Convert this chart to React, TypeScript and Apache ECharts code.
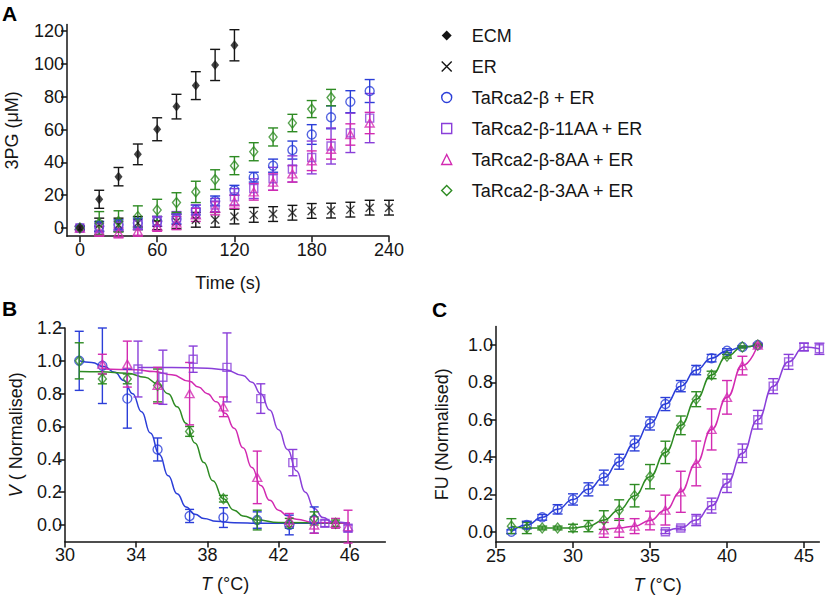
import React, { useEffect, useRef } from 'react';
import * as echarts from 'echarts';

const FONT = 'Liberation Sans, Arial, Helvetica, sans-serif';
const INK = '#151515';
const BLUE = '#2b3ed8';
const PURPLE = '#8a3fd9';
const MAGENTA = '#d22ab1';
const GREEN = '#2e8b23';

// ---------- Panel A: 3PG vs time ----------
const xTicksA = [0, 60, 120, 180, 240];
const yTicksA = [0, 20, 40, 60, 80, 100, 120];
const timeECM = [0, 15, 30, 45, 60, 75, 90, 105, 120];
const ecmA = [0, 17.5, 31.3, 44.9, 60.2, 74, 86.8, 99.4, 111.4];
const ecmErrA = [1, 5.5, 5.6, 6.3, 7, 7.5, 8.5, 9.5, 9.5];
const timeER = [0, 15, 30, 45, 60, 75, 90, 105, 120, 135, 150, 165, 180, 195, 210, 225, 240];
const erA = [0, 2, 2, 3, 3, 4, 5, 5, 7, 8, 8.5, 9.3, 10.4, 10.6, 11.2, 12.4, 12.4];
const erErrA = [1, 4, 4, 4, 4, 4.5, 4.5, 4.5, 4.5, 4.5, 4.5, 4.5, 4.5, 4.5, 4.5, 4.5, 4.5];
const time16 = [0, 15, 30, 45, 60, 75, 90, 105, 120, 135, 150, 165, 180, 195, 210, 225];
const wtA = [0, 1, 2, 3, 4, 5.5, 11, 16.5, 23, 31, 38, 47.5, 57, 67.5, 77, 83.5];
const wtErrA = [1, 3, 3, 3, 3, 3, 3, 3, 3, 3, 4, 5.5, 6, 7, 6.7, 7];
const aa11A = [0, 0, 1, 2, 4, 6, 10, 14, 19, 24, 30, 36, 43, 50, 58, 67];
const aa11ErrA = [1, 3, 3, 3, 3, 4, 4, 4, 5, 6, 7, 8, 10, 11, 12, 15];
const aa8A = [0, -2, -3, -2, 1, 3, 8, 12, 16, 22, 28, 33, 41, 48, 57, 64];
const aa8ErrA = [1, 3, 3, 3, 3, 4, 4, 4, 4, 5, 5, 5, 6, 6, 6.5, 6.5];
const time14 = [0, 15, 30, 45, 60, 75, 90, 105, 120, 135, 150, 165, 180, 195];
const aa3A = [0, 3, 4, 7, 11, 15.5, 22, 29.5, 38, 46.5, 55.5, 64, 72.5, 79.5];
const aa3ErrA = [1, 7, 6.5, 6.5, 6.5, 6, 6.5, 6, 5.5, 5.5, 5.5, 5.3, 5.2, 5];

// ---------- Panel B: activity vs temperature ----------
const xTicksB = [30, 34, 38, 42, 46];
const yTicksB = [0, 0.2, 0.4, 0.6, 0.8, 1.0, 1.2];
const tWtB = [30.8, 32.1, 33.5, 35.2, 37.0, 38.9, 40.8, 42.6, 44.0];
const vWtB = [1.0, 0.97, 0.77, 0.46, 0.055, 0.045, 0.03, 0.0, 0.03];
const eWtB = [0.18, 0.23, 0.18, 0.07, 0.04, 0.06, 0.05, 0.06, 0.08];
const t3B = [30.8, 32.1, 33.5, 35.2, 37.0, 38.9, 40.8, 42.6, 44.0, 45.2];
const v3B = [1.0, 0.89, 0.89, 0.85, 0.57, 0.16, 0.03, 0.01, 0.04, 0.01];
const e3B = [0.11, 0.03, 0.03, 0.1, 0.03, 0.02, 0.06, 0.03, 0.04, 0.02];
const t8B = [32.1, 33.5, 35.2, 37.0, 38.9, 40.8, 42.6, 44.0, 45.2, 45.9];
const v8B = [0.98, 0.98, 0.85, 0.80, 0.72, 0.29, 0.03, 0.0, 0.01, -0.01];
const e8B = [0.06, 0.14, 0.11, 0.19, 0.06, 0.16, 0.04, 0.05, 0.03, 0.1];
const t11B = [34.1, 35.5, 37.2, 39.1, 41.0, 42.8, 44.6, 45.9];
const v11B = [0.95, 0.90, 1.01, 0.96, 0.77, 0.38, 0.01, -0.02];
const e11B = [0.17, 0.165, 0.08, 0.21, 0.09, 0.08, 0.02, 0.02];
// fitted curves
const fitWtBT = [30.8, 31.5, 32.2, 32.8, 33.3, 33.8, 34.3, 34.8, 35.3, 35.8, 36.3, 36.8, 37.3, 37.8, 38.5, 39.5, 41.0, 46.0];
const fitWtBV = [1.0, 0.99, 0.965, 0.93, 0.88, 0.8, 0.69, 0.56, 0.43, 0.3, 0.19, 0.11, 0.065, 0.04, 0.022, 0.014, 0.01, 0.01];
const fit3BT = [30.8, 32.0, 33.5, 34.5, 35.2, 35.8, 36.3, 36.8, 37.3, 37.8, 38.3, 38.9, 39.5, 40.0, 40.8, 42.0, 46.0];
const fit3BV = [0.935, 0.933, 0.925, 0.9, 0.86, 0.8, 0.72, 0.62, 0.5, 0.38, 0.27, 0.16, 0.09, 0.055, 0.03, 0.015, 0.01];
const fit8BT = [32.1, 34.0, 35.0, 36.0, 37.0, 37.5, 38.0, 38.5, 39.0, 39.5, 40.0, 40.5, 41.0, 41.5, 42.0, 42.5, 43.0, 44.0, 46.0];
const fit8BV = [0.95, 0.945, 0.935, 0.915, 0.875, 0.84, 0.8, 0.75, 0.68, 0.59, 0.47, 0.35, 0.24, 0.15, 0.09, 0.055, 0.035, 0.015, 0.01];
const fit11BT = [34.1, 36.0, 38.0, 39.0, 40.0, 40.5, 41.0, 41.5, 42.0, 42.5, 43.0, 43.5, 44.0, 44.5, 45.0, 46.0];
const fit11BV = [0.96, 0.96, 0.955, 0.945, 0.91, 0.87, 0.8, 0.7, 0.58, 0.46, 0.33, 0.2, 0.1, 0.045, 0.02, 0.01];

// ---------- Panel C: fraction unfolded ----------
const xTicksC = [25, 30, 35, 40, 45];
const yTicksC = [0, 0.2, 0.4, 0.6, 0.8, 1.0];
const tWtC = [26, 27, 28, 29, 30, 31, 32, 33, 34, 35, 36, 37, 38, 39, 40, 41, 42];
const fWtC = [0.0, 0.036, 0.077, 0.12, 0.173, 0.227, 0.29, 0.375, 0.473, 0.58, 0.684, 0.78, 0.866, 0.93, 0.97, 0.99, 1.0];
const eWtC = [0.01, 0.02, 0.015, 0.025, 0.03, 0.035, 0.04, 0.04, 0.04, 0.035, 0.035, 0.03, 0.025, 0.02, 0.01, 0.005, 0.005];
const t3C = [26, 27, 28, 29, 30, 31, 32, 33, 34, 35, 36, 37, 38, 39, 40, 41, 42];
const f3C = [0.03, 0.02, 0.02, 0.02, 0.02, 0.03, 0.0625, 0.116, 0.193, 0.295, 0.425, 0.57, 0.71, 0.84, 0.94, 0.99, 1.0];
const e3C = [0.04, 0.03, 0.01, 0.01, 0.02, 0.03, 0.05, 0.055, 0.06, 0.065, 0.06, 0.05, 0.04, 0.02, 0.01, 0.005, 0.005];
const t8C = [32, 33, 34, 35, 36, 37, 38, 39, 40, 41, 42];
const f8C = [0.01, 0.02, 0.03, 0.06, 0.116, 0.214, 0.366, 0.548, 0.72, 0.89, 1.0];
const e8C = [0.04, 0.05, 0.04, 0.05, 0.08, 0.11, 0.12, 0.11, 0.09, 0.05, 0.01];
const t11C = [36, 37, 38, 39, 40, 41, 42, 43, 44, 45, 46];
const f11C = [0.0, 0.02, 0.0625, 0.14, 0.26, 0.42, 0.6, 0.78, 0.91, 0.99, 0.98];
const e11C = [0.01, 0.01, 0.03, 0.04, 0.05, 0.05, 0.05, 0.04, 0.04, 0.02, 0.03];

const NAMES = ['ECM', 'ER', 'TaRca2-β + ER', 'TaRca2-β-11AA + ER', 'TaRca2-β-8AA + ER', 'TaRca2-β-3AA + ER'];
const CROSS = 'path://M0,0L10,10M0,10L10,0';
const CLEAR = 'rgba(255,255,255,0)';

const pts = (xs: number[], ys: number[]) => xs.map((x, i) => [x, ys[i]]);
const errPts = (xs: number[], ys: number[], es: number[]) => xs.map((x, i) => [x, ys[i], es[i]]);

function errSeries(name: string, idx: number, xs: number[], ys: number[], es: number[], color: string, cap: number) {
  return {
    type: 'custom',
    name,
    xAxisIndex: idx,
    yAxisIndex: idx,
    z: 2,
    silent: true,
    data: errPts(xs, ys, es),
    encode: { x: 0, y: 1 },
    renderItem: (params: any, api: any) => {
      const x = api.value(0);
      const y = api.value(1);
      const e = api.value(2);
      const top = api.coord([x, y + e]);
      const bot = api.coord([x, y - e]);
      const hw = cap / 2;
      const style = { stroke: color, lineWidth: 1.4 };
      return {
        type: 'group',
        children: [
          { type: 'line', shape: { x1: top[0], y1: top[1], x2: bot[0], y2: bot[1] }, style },
          { type: 'line', shape: { x1: top[0] - hw, y1: top[1], x2: top[0] + hw, y2: top[1] }, style },
          { type: 'line', shape: { x1: bot[0] - hw, y1: bot[1], x2: bot[0] + hw, y2: bot[1] }, style },
        ],
      };
    },
  };
}

function scatter(name: string, idx: number, xs: number[], ys: number[], symbol: string, size: any, color: string, filled = false) {
  return {
    type: 'scatter',
    name,
    xAxisIndex: idx,
    yAxisIndex: idx,
    z: 3,
    symbol,
    symbolSize: size,
    data: pts(xs, ys),
    itemStyle: filled
      ? { color }
      : { color: CLEAR, borderColor: color, borderWidth: 1.4 },
  };
}

function curve(name: string, idx: number, xs: number[], ys: number[], color: string) {
  return {
    type: 'line',
    name,
    xAxisIndex: idx,
    yAxisIndex: idx,
    z: 1,
    smooth: 0.5,
    smoothMonotone: 'x',
    showSymbol: false,
    symbol: 'none',
    silent: true,
    data: pts(xs, ys),
    lineStyle: { color, width: 1.5 },
    itemStyle: { color },
  };
}

const lineStyleAxis = { color: INK, width: 1.5 };
const textBase = { fontFamily: FONT, fontSize: 18, color: INK };

function axis(kind: 'x' | 'y', idx: number, min: number, max: number, ticks: number[], name: string, gap: number, margin: number, fmt?: (v: number) => string) {
  return {
    type: 'value',
    gridIndex: idx,
    min,
    max,
    name,
    nameLocation: 'middle',
    nameGap: gap,
    nameTextStyle: { ...textBase, rich: { i: { ...textBase, fontStyle: 'italic' } } },
    axisLine: { show: true, onZero: false, lineStyle: lineStyleAxis },
    axisTick: { show: true, length: 6, customValues: ticks, lineStyle: lineStyleAxis },
    axisLabel: { ...textBase, margin, customValues: ticks, formatter: fmt || ((v: number) => String(v)) },
    splitLine: { show: false },
  };
}

const fix1 = (v: number) => v.toFixed(1);

export default function App() {
  const ref = useRef<HTMLDivElement>(null);
  useEffect(() => {
    if (!ref.current) return;
    const chart = echarts.init(ref.current, undefined, { renderer: 'svg' });
    const option: any = {
      animation: false,
      backgroundColor: '#ffffff',
      textStyle: { fontFamily: FONT },
      grid: [
        { left: 67, top: 24.6, width: 322, height: 211.6 },
        { left: 65, top: 328, width: 320.4, height: 213.4 },
        { left: 496, top: 326.4, width: 323.4, height: 215.6 },
      ],
      xAxis: [
        axis('x', 0, -10, 240, xTicksA, 'Time (s)', 38, 5),
        axis('x', 1, 30, 48, xTicksB, '{i|T} (°C)', 34, 5),
        axis('x', 2, 25, 46, xTicksC, '{i|T} (°C)', 34, 5),
      ],
      yAxis: [
        axis('y', 0, -5, 124, yTicksA, '3PG (μM)', 46, 3),
        axis('y', 1, -0.1, 1.2, yTicksB, '{i|V} ( Normalised)', 40, 3, fix1),
        axis('y', 2, -0.055, 1.1, yTicksC, 'FU (Normalised)', 45, 3, fix1),
      ],
      legend: {
        orient: 'vertical',
        left: 436,
        top: 21.5,
        itemWidth: 10,
        itemHeight: 10,
        itemGap: 13,
        selectedMode: false,
        textStyle: { ...textBase, padding: [0, 0, 0, 15] },
        data: [
          { name: NAMES[0], icon: 'diamond', itemStyle: { color: INK, borderWidth: 0 } },
          { name: NAMES[1], icon: CROSS, itemStyle: { color: CLEAR, borderColor: INK, borderWidth: 1.4 } },
          { name: NAMES[2], icon: 'circle', itemStyle: { color: CLEAR, borderColor: BLUE, borderWidth: 1.4 } },
          { name: NAMES[3], icon: 'rect', itemStyle: { color: CLEAR, borderColor: PURPLE, borderWidth: 1.4 } },
          { name: NAMES[4], icon: 'triangle', itemStyle: { color: CLEAR, borderColor: MAGENTA, borderWidth: 1.4 } },
          { name: NAMES[5], icon: 'diamond', itemStyle: { color: CLEAR, borderColor: GREEN, borderWidth: 1.4 } },
        ],
      },
      graphic: [
        { type: 'text', left: 2, top: 3, style: { text: 'A', font: `bold 21px ${FONT}`, fill: '#000' } },
        { type: 'text', left: 2, top: 298, style: { text: 'B', font: `bold 21px ${FONT}`, fill: '#000' } },
        { type: 'text', left: 432, top: 299, style: { text: 'C', font: `bold 21px ${FONT}`, fill: '#000' } },
      ],
      series: [
        // Panel A
        errSeries(NAMES[1], 0, timeER, erA, erErrA, INK, 10),
        errSeries(NAMES[2], 0, time16, wtA, wtErrA, BLUE, 10),
        errSeries(NAMES[3], 0, time16, aa11A, aa11ErrA, PURPLE, 10),
        errSeries(NAMES[4], 0, time16, aa8A, aa8ErrA, MAGENTA, 10),
        errSeries(NAMES[5], 0, time14, aa3A, aa3ErrA, GREEN, 10),
        errSeries(NAMES[0], 0, timeECM, ecmA, ecmErrA, INK, 10),
        scatter(NAMES[1], 0, timeER, erA, CROSS, 8, INK),
        scatter(NAMES[2], 0, time16, wtA, 'circle', 9, BLUE),
        scatter(NAMES[3], 0, time16, aa11A, 'rect', 8, PURPLE),
        scatter(NAMES[4], 0, time16, aa8A, 'triangle', [9, 8], MAGENTA),
        scatter(NAMES[5], 0, time14, aa3A, 'diamond', [8, 10], GREEN),
        scatter(NAMES[0], 0, timeECM, ecmA, 'diamond', [8, 10], INK, true),
        // Panel B
        curve('B wt fit', 1, fitWtBT, fitWtBV, BLUE),
        curve('B 3AA fit', 1, fit3BT, fit3BV, GREEN),
        curve('B 8AA fit', 1, fit8BT, fit8BV, MAGENTA),
        curve('B 11AA fit', 1, fit11BT, fit11BV, PURPLE),
        errSeries('B wt', 1, tWtB, vWtB, eWtB, BLUE, 9),
        errSeries('B 3AA', 1, t3B, v3B, e3B, GREEN, 9),
        errSeries('B 8AA', 1, t8B, v8B, e8B, MAGENTA, 9),
        errSeries('B 11AA', 1, t11B, v11B, e11B, PURPLE, 9),
        scatter('B wt', 1, tWtB, vWtB, 'circle', 9, BLUE),
        scatter('B 3AA', 1, t3B, v3B, 'diamond', [8, 10], GREEN),
        scatter('B 8AA', 1, t8B, v8B, 'triangle', [9, 8], MAGENTA),
        scatter('B 11AA', 1, t11B, v11B, 'rect', 8, PURPLE),
        // Panel C
        curve('C wt fit', 2, tWtC, fWtC, BLUE),
        curve('C 3AA fit', 2, t3C, f3C, GREEN),
        curve('C 8AA fit', 2, t8C, f8C, MAGENTA),
        curve('C 11AA fit', 2, t11C, f11C, PURPLE),
        errSeries('C wt', 2, tWtC, fWtC, eWtC, BLUE, 10),
        errSeries('C 3AA', 2, t3C, f3C, e3C, GREEN, 10),
        errSeries('C 8AA', 2, t8C, f8C, e8C, MAGENTA, 10),
        errSeries('C 11AA', 2, t11C, f11C, e11C, PURPLE, 10),
        scatter('C wt', 2, tWtC, fWtC, 'circle', 9, BLUE),
        scatter('C 3AA', 2, t3C, f3C, 'diamond', [8, 10], GREEN),
        scatter('C 8AA', 2, t8C, f8C, 'triangle', [9, 8], MAGENTA),
        scatter('C 11AA', 2, t11C, f11C, 'rect', 8, PURPLE),
      ],
    };
    chart.setOption(option);
    return () => chart.dispose();
  }, []);
  return (
    <div
      ref={ref}
      style={{ position: 'absolute', left: 0, top: 0, width: 827, height: 599, background: '#fff' }}
    />
  );
}
